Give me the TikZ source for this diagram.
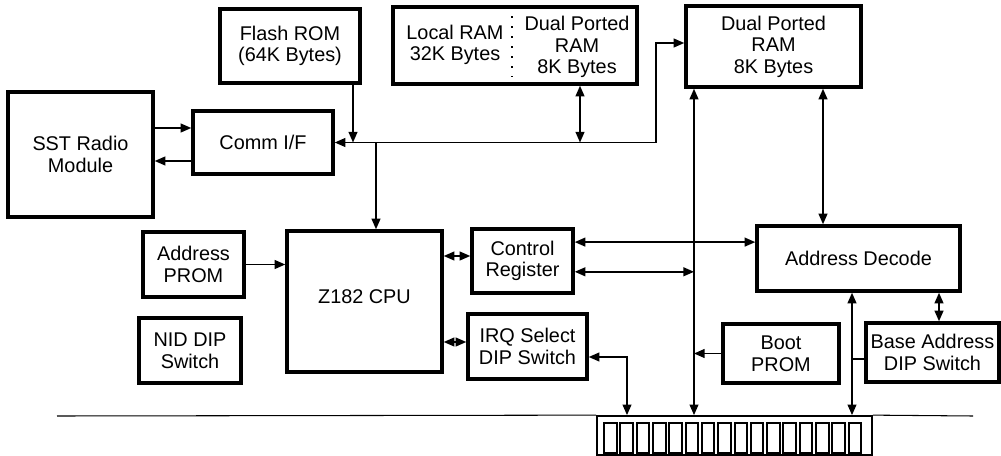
\documentclass[tikz,border=0pt]{standalone}
\usepackage{fontspec}
\setmainfont{Liberation Sans}
\usetikzlibrary{arrows.meta, calc}

\begin{document}
\begin{tikzpicture}[x=0.02cm, y=-0.02cm, font=\fontsize{11.3}{12.3}\selectfont,
    blk/.style={draw, line width=2pt, align=center, inner sep=1pt},
    wire/.style={line width=0.9pt},
    sarrow/.style={-{Triangle[length=6pt,width=5pt]}},
    darrow/.style={{Triangle[length=6pt,width=5pt]}-{Triangle[length=6pt,width=5pt]}}]
    \useasboundingbox (0,0) rectangle (1001,456);

    % blocks
    \node[blk, minimum width=2.8cm, minimum height=1.48cm] (flash) at (290,46) {Flash ROM\\(64K Bytes)};
    \node[blk, minimum width=2.9cm, minimum height=2.5cm] (sst) at (80.5,154.5) {SST Radio\\Module};
    \node[blk, minimum width=2.8cm, minimum height=1.26cm] (comm) at (263,142.5) {Comm I/F};
    \node[blk, minimum width=4.88cm, minimum height=1.54cm] (lram) at (515,45.5) {};
    \node[align=center] (lramtxt) at (455,45) {Local RAM\\32K Bytes};
    \node[align=center] (lramdp) at (577,47) {Dual Ported\\RAM\\8K Bytes};
    \draw[line width=1.2pt, dash pattern=on 1.2pt off 4.5pt] (lram.north -| 512,0) ++(0,11) -- ++(0,61);
    \node[blk, minimum width=3.5cm, minimum height=1.62cm] (dpram) at (773.5,46.5) {Dual Ported\\RAM\\8K Bytes};
    \node[blk, minimum width=3.1cm, minimum height=2.82cm] (cpu) at (364.5,301.5) {\raisebox{0.18cm}{Z182 CPU}};
    \node[blk, minimum width=2.02cm, minimum height=1.28cm] (ctrl) at (522.5,261) {Control\\Register};
    \node[blk, minimum width=2.38cm, minimum height=1.3cm] (irq) at (527.5,346.5) {IRQ Select\\DIP Switch};
    \node[blk, minimum width=2.02cm, minimum height=1.3cm] (aprom) at (193.5,264.5) {Address\\PROM};
    \node[blk, minimum width=2.04cm, minimum height=1.3cm] (nid) at (190,350.5) {NID DIP\\Switch};
    \node[blk, minimum width=4.06cm, minimum height=1.3cm] (adec) at (858.5,258.5) {Address Decode};
    \node[blk, minimum width=2.66cm, minimum height=1.18cm] (base) at (932.5,352.5) {Base Address\\DIP Switch};
    \node[blk, minimum width=2.32cm, minimum height=1.18cm] (boot) at (781,353.5) {Boot\\PROM};

    % edge connector
    \node[draw, line width=1pt, minimum width=5.5cm, minimum height=0.78cm, inner sep=0pt] (conn) at (734.5,435.5) {};
    \foreach \i in {0,...,15}
        \draw[line width=1.1pt] ($(conn.west)+(8+\i*16.3,-12.5)$) rectangle +(12.5,30);
    \coordinate (edgeL) at (57,416);
    \coordinate (edgeR) at (973,416);
    \draw[line width=0.6pt] (edgeL) -- (conn.north west);
    \draw[line width=0.6pt] (conn.north east) -- (edgeR);

    % bus columns
    \coordinate (fx) at (353,0);
    \coordinate (cx) at (376,0);
    \coordinate (lx) at (580,0);
    \coordinate (bt) at (656,0);
    \coordinate (ix) at (627,0);
    \coordinate (vx) at (694,0);
    \coordinate (dx) at (823,0);
    \coordinate (ax) at (852,0);

    % local bus
    \draw[wire, darrow] (comm.east) -- (bt |- comm.east) |- ([yshift=0.07cm]dpram.west);
    \draw[wire, sarrow] (fx |- flash.south) -- (fx |- comm.east);
    \draw[wire, sarrow] (cx |- comm.east) -- (cx |- cpu.north);
    \draw[wire, darrow] (lx |- lram.south) -- (lx |- comm.east);

    % radio link
    \coordinate (k6) at ([yshift=0.29cm]comm.west);
    \coordinate (k7) at ([yshift=-0.37cm]comm.west);
    \draw[wire, sarrow] (k6 -| sst.east) -- (k6);
    \draw[wire, sarrow] (k7) -- (k7 -| sst.east);

    % cpu side
    \coordinate (k1) at ([yshift=0.1cm]ctrl.west);
    \coordinate (k2) at ([yshift=0.09cm]irq.west);
    \draw[wire, darrow] (k1 -| cpu.east) -- (k1);
    \draw[wire, darrow] (k2 -| cpu.east) -- (k2);
    \draw[wire, sarrow] (aprom.east) -- (aprom.east -| cpu.west);
    \coordinate (k3) at ([yshift=-0.21cm]irq.east);
    \draw[wire, darrow] (k3) -| (ix |- conn.north);

    % host side
    \draw[wire, darrow] (vx |- dpram.south) -- (vx |- conn.north);
    \draw[wire, darrow] (dx |- dpram.south) -- (dx |- adec.north);
    \coordinate (c1) at ($(ctrl.north east)!0.22!(ctrl.south east)$);
    \coordinate (c2) at ($(ctrl.north east)!0.66!(ctrl.south east)$);
    \draw[wire, darrow] (c1) -- (c1 -| adec.west);
    \draw[wire, darrow] (c2) -- (c2 -| vx);
    \draw[wire, sarrow] (boot.west) -- (boot.west -| vx);
    \draw[wire, darrow] (ax |- adec.south) -- (ax |- conn.north);
    \coordinate (k4) at ([yshift=-0.13cm]base.west);
    \draw[line width=0.6pt] (k4 -| ax) -- (k4);
    \coordinate (k5) at ([xshift=0.13cm]base.north);
    \draw[wire, darrow] (k5 |- adec.south) -- (k5);
\end{tikzpicture}
\end{document}
